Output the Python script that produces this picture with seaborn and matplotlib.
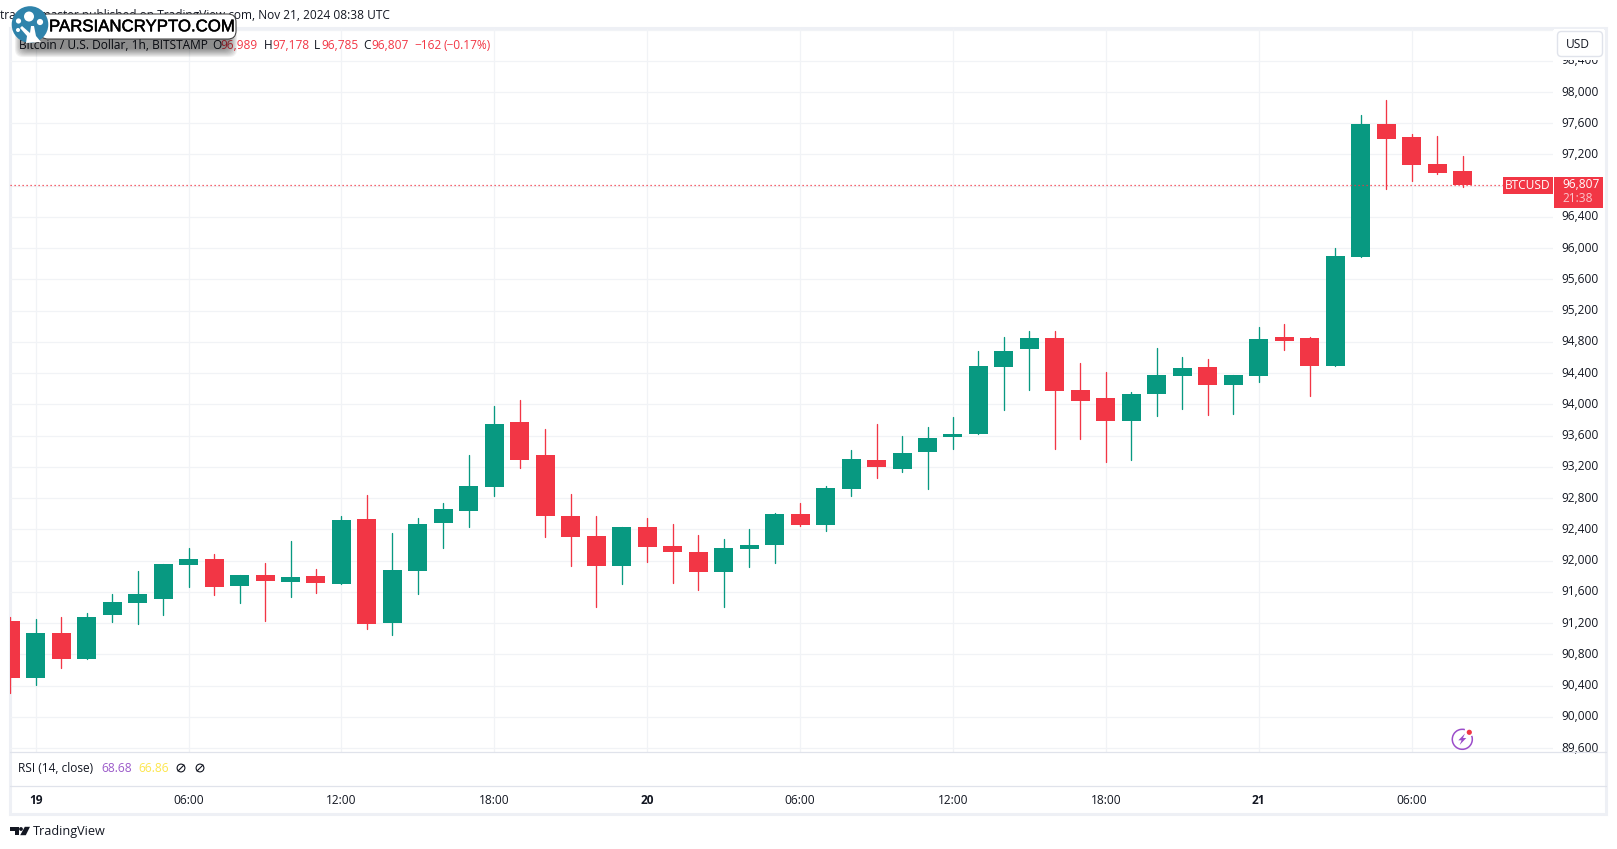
import numpy as np
import pandas as pd
import matplotlib
matplotlib.use("Agg")
import matplotlib.pyplot as plt
import matplotlib.patheffects as pe
import matplotlib.transforms as mtrans
import seaborn as sns
from matplotlib.patches import Circle, FancyBboxPatch, Polygon, Rectangle, Arc

# =========================
# DATA (hour 0 = Nov 19 00:00)
# =========================
first_hour = -1
open_p = [91227, 90497, 91073, 90740, 91303, 91457, 91508, 91944, 92020, 91675,
          91816, 91726, 91803, 91700, 92533, 91201, 91867, 92481, 92635, 92942,
          93774, 93352, 92571, 92315, 91930, 92430, 92186, 92110, 91854, 92148,
          92199, 92596, 92455, 92917, 93288, 93173, 93391, 93583, 93621, 94479,
          94710, 94851, 94185, 94082, 93788, 94134, 94364, 94479, 94249, 94364,
          94863, 94851, 94492, 95888, 97591, 97424, 97079, 96989]
high_p = [91278, 91252, 91278, 91329, 91572, 91867, 91956, 92161, 92085, 91816,
          91969, 92251, 91892, 92571, 92840, 92353, 92545, 92737, 93352, 93979,
          94056, 93685, 92852, 92571, 92430, 92545, 92468, 92327, 92276, 92404,
          92609, 92737, 92955, 93416, 93749, 93596, 93711, 93839, 94684, 94863,
          94940, 94940, 94530, 94415, 94159, 94722, 94607, 94582, 94377, 94991,
          95030, 94863, 96003, 97706, 97898, 97463, 97437, 97178]
low_p = [90305, 90407, 90625, 90740, 91214, 91188, 91303, 91662, 91560, 91457,
         91227, 91534, 91585, 91700, 91124, 91047, 91572, 92161, 92430, 92827,
         93185, 92302, 91930, 91405, 91700, 91982, 91713, 91623, 91405, 91918,
         91969, 92443, 92379, 92827, 93058, 93135, 92917, 93429, 93621, 93929,
         94185, 93429, 93557, 93263, 93288, 93852, 93941, 93865, 93873, 94287,
         94697, 94108, 94492, 95888, 96758, 96861, 96950, 96785]
close_p = [90497, 91073, 90740, 91278, 91470, 91572, 91956, 92020, 91662, 91816,
           91739, 91790, 91713, 92520, 91188, 91880, 92469, 92661, 92955, 93749,
           93288, 92571, 92302, 91930, 92430, 92174, 92110, 91854, 92161, 92199,
           92596, 92455, 92929, 93301, 93199, 93378, 93570, 93621, 94492, 94684,
           94851, 94172, 94044, 93788, 94134, 94377, 94466, 94249, 94377, 94838,
           94812, 94492, 95900, 97591, 97399, 97066, 96963, 96807]

last_price = 96807
price_ticks = list(range(89600, 98801, 400))
hour_ticks = [0, 6, 12, 18, 24, 30, 36, 42, 48, 54]
hour_labels = ["19", "06:00", "12:00", "18:00", "20", "06:00", "12:00", "18:00", "21", "06:00"]
day_labels = ["19", "20", "21"]

UP = "#089981"
DOWN = "#F23645"
INK = "#131722"
GRID = "#f1f3f6"
DIV = "#e0e3eb"
FRAME = "#eef0f5"

# =========================
# THEME
# =========================
sns.set_theme(style="white")
plt.rcParams["font.family"] = ["Open Sans", "DejaVu Sans"]
FS = 8.6

W, H = 1617, 849
fig = plt.figure(figsize=(W / 100, H / 100), dpi=100, facecolor="white")


def pixel_axes(zorder):
    a = fig.add_axes([0, 0, 1, 1], zorder=zorder)
    a.set_xlim(0, W)
    a.set_ylim(H, 0)
    a.axis("off")
    a.patch.set_alpha(0)
    return a


# frame goes under the candles, the first candle sits on top of it
back = pixel_axes(0)
back.add_patch(Rectangle((10, 27.5), 1596, 786, fill=False, ec=FRAME, lw=2.2))

# main pane, pixel box of the chart in the picture
left, right, top, bottom = 9.5, 1553.0, 29.0, 752.0
ax = fig.add_axes([left / W, 1 - bottom / H, (right - left) / W, (bottom - top) / H], zorder=1)
ax.patch.set_alpha(0)

# =========================
# CANDLES
# =========================
df = pd.DataFrame({"open": open_p, "high": high_p, "low": low_p, "close": close_p})
df["hour"] = first_hour + np.arange(len(df))
df["dir"] = np.where(df["close"] >= df["open"], "up", "down")

wicks = df.melt(id_vars=["hour", "dir"], value_vars=["low", "high"], value_name="price")
wicks = wicks.sort_values(["hour", "price"])
sns.lineplot(data=wicks, x="hour", y="price", hue="dir", units="hour", estimator=None,
             palette={"up": UP, "down": DOWN}, legend=False, linewidth=0.95,
             ax=ax, zorder=3)

body_low = df[["open", "close"]].min(axis=1)
body_high = df[["open", "close"]].max(axis=1)
ax.bar(df["hour"], body_high - body_low, bottom=body_low, width=0.746,
       color=df["dir"].map({"up": UP, "down": DOWN}), linewidth=0, zorder=4)

ax.axhline(last_price, color=DOWN, lw=0.9, ls=(0, (1, 2.2)), zorder=5)

# =========================
# AXES
# =========================
px_per_hour = 25.48
px_per_price = 0.0781
ax.set_xlim((left - 35.7) / px_per_hour, (right - 35.7) / px_per_hour)
ax.set_ylim(98000 - (bottom - 92) / px_per_price, 98000 + (92 - top) / px_per_price)
ax.set_xlabel("")
ax.set_ylabel("")
ax.grid(True, color=GRID, lw=0.9, zorder=0)
ax.set_axisbelow(True)
for s in ax.spines.values():
    s.set_visible(False)

ax.yaxis.tick_right()
ax.set_yticks(price_ticks)
ax.set_yticklabels([f"{p:,}" if p < 98800 else "" for p in price_ticks], fontsize=FS, color=INK)
ax.set_xticks(hour_ticks)
ax.set_xticklabels(hour_labels, fontsize=FS, color=INK)
ax.tick_params(axis="y", length=0, pad=6.2)
ax.tick_params(axis="x", length=0, pad=30.2)
up_shift = mtrans.ScaledTranslation(0, 1.5 / 100, fig.dpi_scale_trans)
for lab in ax.get_yticklabels():
    lab.set_transform(lab.get_transform() + up_shift)
for lab in ax.get_xticklabels():
    if lab.get_text() in day_labels:
        lab.set_fontweight("bold")

# =========================
# OVERLAY IN PICTURE PIXELS
# =========================
ov = pixel_axes(10)

ov.plot([10, 1606], [752.3, 752.3], color=DIV, lw=0.9)
ov.plot([10, 1606], [786.3, 786.3], color=DIV, lw=0.9)


def tx(x, y, s, color=INK, ha="left", size=FS, **kw):
    ov.text(x, y, s, color=color, ha=ha, va="center", fontsize=size, **kw)


# header and legend line
tx(390, 15.5, "tradingmaster published on TradingView.com, Nov 21, 2024 08:38 UTC", ha="right")
tx(18.5, 45, "Bitcoin / U.S. Dollar, 1h, BITSTAMP")
for x, s in [(212.5, "O"), (263.6, "H"), (314, "L"), (363, "C")]:
    tx(x, 45, s)
for x, s in [(220.7, "96,989"), (272, "97,178"), (321, "96,785"), (371, "96,807"),
             (414, "\u2212162"), (443.6, "(\u22120.17%)")]:
    tx(x, 45, s, color=DOWN)

# USD button, the white strip hides the top half of the 98,400 label
ov.add_patch(Rectangle((1553.5, 29), 50.5, 31, fc="white", ec="none"))
ov.add_patch(FancyBboxPatch((1557.5, 31.5), 45, 25, boxstyle="round,pad=0,rounding_size=4",
                            fc="white", ec=DIV, lw=1))
tx(1566, 44, "USD")

# last price tags
ov.add_patch(Rectangle((1503, 177), 49.7, 17, fc=DOWN, ec="none"))
tx(1527.8, 185.3, "BTCUSD", color="white", ha="center")
ov.add_patch(Rectangle((1554, 177), 49, 30.7, fc=DOWN, ec="none"))
tx(1562, 184.5, "96,807", color="white")
tx(1562, 198.7, "21:38", color="#fbc4cb")

# RSI legend
tx(18, 768, "RSI (14, close)")
tx(101.7, 768, "68.68", color="#9b59c9")
tx(138.7, 768, "66.86", color="#fde64b")
for cx in (181, 200):
    ov.add_patch(Circle((cx, 768), 3.9, fill=False, ec=INK, lw=0.8))
    ov.plot([cx - 3, cx + 3], [771, 765], color=INK, lw=0.8)

# lightning icon
ov.add_patch(Arc((1462.3, 739.3), 20, 20, theta1=-20, theta2=285, color="#9b4dca", lw=1.1))
ov.add_patch(Polygon([(1465, 733.5), (1458.3, 740.3), (1461.6, 740.3), (1459.6, 745),
                      (1466.3, 738), (1463, 738)], fc="#9b4dca", ec="none"))
ov.add_patch(Circle((1469.3, 732.3), 2.6, fc=DOWN, ec="none"))

# TradingView logo
ov.add_patch(Polygon([(10, 826.8), (19.2, 826.8), (19.2, 835.2), (14.6, 835.2), (14.6, 830.8), (10, 830.8)],
                     fc=INK, ec="none"))
ov.add_patch(Circle((21, 829), 1.9, fc=INK, ec="none"))
ov.add_patch(Polygon([(24.8, 826.8), (30, 826.8), (25.8, 835.2), (20.2, 835.2)], fc=INK, ec="none"))
tx(33, 831.5, "TradingView", size=9.1)

# watermark, above all the text
Z = 20
for i in range(10):
    grow = 13 - i * 1.3
    ov.add_patch(FancyBboxPatch((24 - grow * 0.7, 24 - grow * 0.3), 204 + grow * 1.4, 24 + grow,
                                boxstyle="round,pad=0,rounding_size=8", fc="black", ec="none",
                                alpha=0.055, zorder=Z))
ov.add_patch(FancyBboxPatch((40, 14), 196, 25, boxstyle="round,pad=0,rounding_size=8",
                            fc="white", ec="#333333", lw=0.7, zorder=Z + 1))
ov.text(49, 26.8, "PARSIANCRYPTO.COM", color="black", ha="left", va="center",
        fontsize=12.1, family="Liberation Sans", zorder=Z + 2,
        path_effects=[pe.withStroke(linewidth=0.35, foreground="black")])
ov.add_patch(Circle((30, 24.5), 18.3, fc="#2f83ab", ec="none", zorder=Z + 2))
ov.add_patch(Polygon([(26, 43), (41, 42), (36, 36), (34, 26), (31, 26), (30, 33), (22, 26),
                      (20, 28), (27, 36)], fc="white", ec="none", zorder=Z + 3))
for cx, cy, r in [(29, 16.5, 5), (18.5, 21, 2.6), (40, 22, 3.1), (18, 30, 2)]:
    ov.add_patch(Circle((cx, cy), r, fc="white", ec="none", zorder=Z + 3))

fig.savefig("out.png", dpi=100, facecolor="white")
